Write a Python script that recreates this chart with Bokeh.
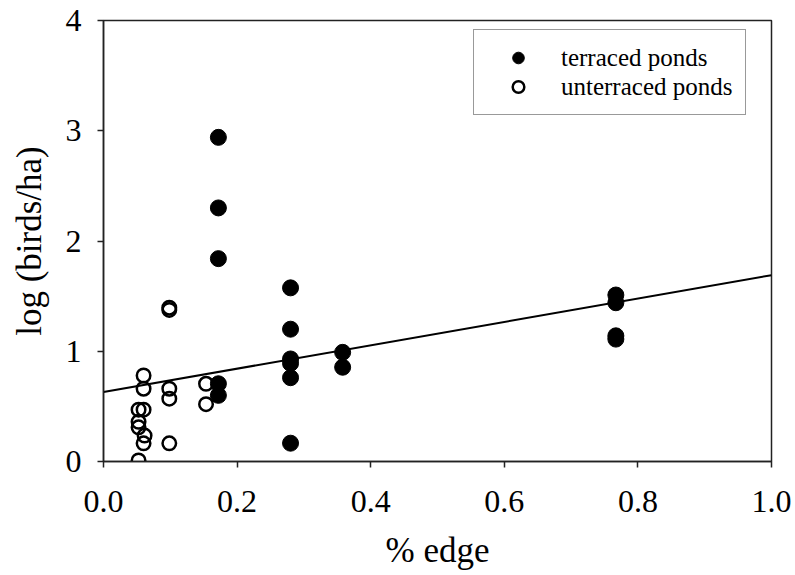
from bokeh.plotting import figure
from bokeh.models import Range1d, FixedTicker, NumeralTickFormatter, Legend, LegendItem
from bokeh.embed import file_html
from bokeh.resources import INLINE

# terraced ponds (filled circles)
terraced_x = [0.172, 0.172, 0.172, 0.172, 0.172,
              0.28, 0.28, 0.28, 0.28, 0.28, 0.28,
              0.358, 0.358,
              0.767, 0.767, 0.767, 0.767]
terraced_y = [2.94, 2.30, 1.84, 0.705, 0.60,
              1.575, 1.20, 0.93, 0.89, 0.76, 0.166,
              0.99, 0.855,
              1.51, 1.44, 1.14, 1.11]

# unterraced ponds (open circles)
unterraced_x = [0.0525, 0.0525, 0.0525, 0.0525,
                0.06, 0.0615, 0.06, 0.06, 0.06,
                0.0985, 0.0985, 0.0985, 0.0985, 0.0985,
                0.1535, 0.1535]
unterraced_y = [0.01, 0.31, 0.36, 0.47,
                0.47, 0.235, 0.165, 0.66, 0.78,
                0.165, 0.57, 0.66, 1.375, 1.395,
                0.52, 0.705]

# regression line (end points)
fit_x = [0.0, 1.0]
fit_y = [0.63, 1.69]

x_ticks = [0.0, 0.2, 0.4, 0.6, 0.8, 1.0]
y_ticks = [0, 1, 2, 3, 4]

FONT = "Liberation Serif"

p = figure(width=795, height=575, output_backend="svg", toolbar_location=None,
           x_range=Range1d(0, 1), y_range=Range1d(0, 4),
           min_border_left=103, min_border_right=24,
           min_border_top=20, min_border_bottom=114)
p.background_fill_color = "white"
p.border_fill_color = "white"
p.grid.visible = False
p.outline_line_color = "#222222"
p.outline_line_width = 1.5

fit = p.line(fit_x, fit_y, line_color="black", line_width=2)
r_t = p.scatter(terraced_x, terraced_y, marker="circle", size=16,
                fill_color="black", line_color="black", line_width=1)
r_u = p.scatter(unterraced_x, unterraced_y, marker="circle", size=13.5,
                fill_color="white", fill_alpha=0, line_color="black", line_width=2.5)

for ax in (p.xaxis[0], p.yaxis[0]):
    ax.axis_line_color = "#222222"
    ax.axis_line_width = 1.5
    ax.major_tick_line_color = "#222222"
    ax.major_tick_line_width = 1.5
    ax.major_tick_out = 6
    ax.major_tick_in = 0
    ax.minor_tick_line_color = None
    ax.major_label_text_font = FONT
    ax.major_label_text_font_size = "32px"
    ax.major_label_text_color = "black"
    ax.axis_label_text_font = FONT
    ax.axis_label_text_font_size = "35px"
    ax.axis_label_text_font_style = "normal"
    ax.axis_label_text_color = "black"

p.xaxis.ticker = FixedTicker(ticks=x_ticks)
p.yaxis.ticker = FixedTicker(ticks=y_ticks)
p.xaxis.formatter = NumeralTickFormatter(format="0.0")
p.yaxis.formatter = NumeralTickFormatter(format="0")
p.xaxis.axis_label = "% edge"
p.yaxis.axis_label = "log (birds/ha)"
p.xaxis.major_label_standoff = 23
p.yaxis.major_label_standoff = 16
p.xaxis.axis_label_standoff = 16
p.yaxis.axis_label_standoff = 14

legend = Legend(items=[LegendItem(label="terraced ponds", renderers=[r_t]),
                       LegendItem(label="unterraced ponds", renderers=[r_u])],
                location=(370, 346))
legend.label_text_font = FONT
legend.label_text_font_size = "25px"
legend.label_text_color = "black"
legend.border_line_color = "#333333"
legend.border_line_width = 1.5
legend.background_fill_color = "white"
legend.background_fill_alpha = 1
legend.padding = 13
legend.spacing = 0
legend.glyph_height = 29
legend.glyph_width = 62
legend.label_standoff = 12
legend.margin = 0
p.add_layout(legend)

open("out.html", "w").write(file_html(p, INLINE))
